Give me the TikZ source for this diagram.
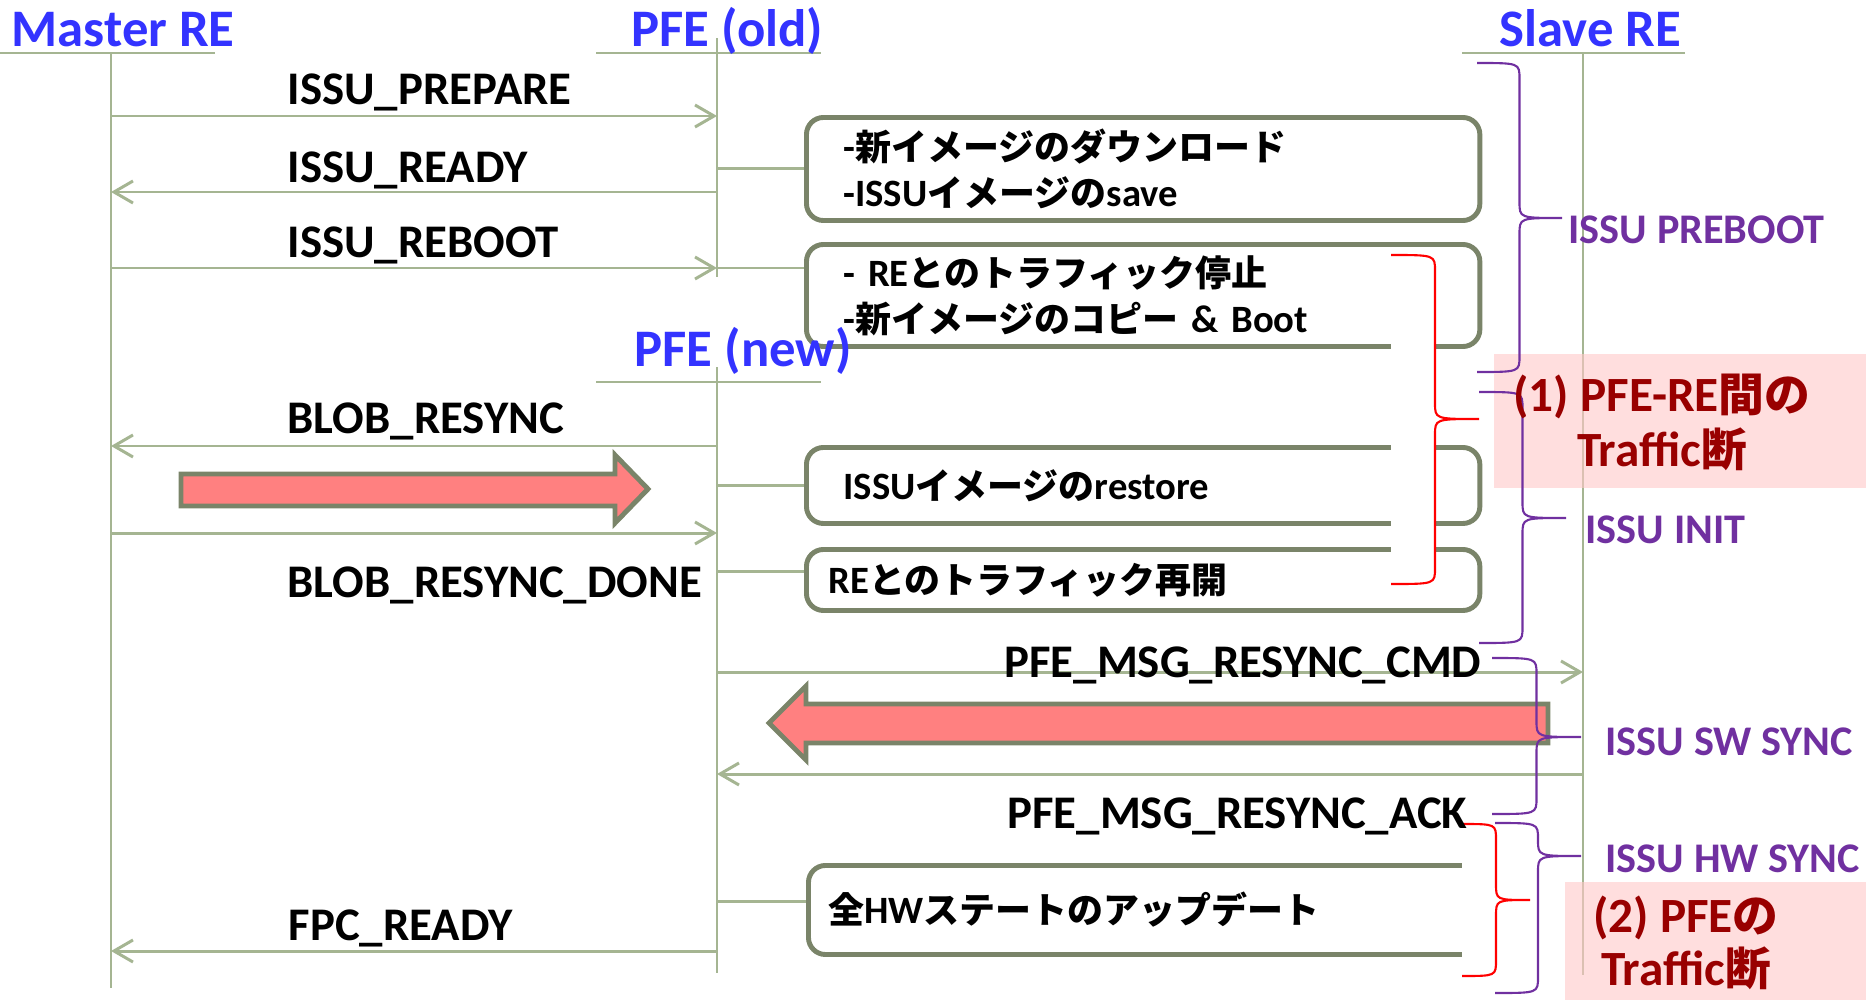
\documentclass[tikz,border=0pt]{standalone}
\usepackage{fontspec}
\setmainfont{Carlito}
\newfontfamily\jpfont{Noto Sans CJK JP}[Scale=0.93]
\newcommand{\jp}[1]{{\jpfont #1}}
\usetikzlibrary{arrows.meta}

\definecolor{lifegreen}{RGB}{165,181,146}
\definecolor{boxgray}{RGB}{122,132,105}
\definecolor{arrowpink}{RGB}{255,128,128}
\definecolor{headblue}{RGB}{51,51,255}
\definecolor{phasepurple}{RGB}{112,48,160}
\definecolor{cutred}{RGB}{153,0,0}
\definecolor{cutpink}{RGB}{255,200,200}

% right-hand curly brace: style, x of ends, x of tip, top y, tip y, bottom y
\newcommand{\sidebrace}[6]{%
	\draw[#1] (#2,#4) .. controls ({(#2+#3)/2},#4) .. ({(#2+#3)/2},{#4+16})
		-- ({(#2+#3)/2},{#5-16}) .. controls ({(#2+#3)/2},#5) .. (#3,#5)
		.. controls ({(#2+#3)/2},#5) .. ({(#2+#3)/2},{#5+16})
		-- ({(#2+#3)/2},{#6-16}) .. controls ({(#2+#3)/2},#6) .. (#2,#6);}

\begin{document}
\begin{tikzpicture}[x=0.01cm, y=-0.01cm,
	life/.style={draw=lifegreen, line width=0.6pt},
	msg/.style={draw=lifegreen, line width=0.85pt, -{Straight Barb[length=0.19cm, width=0.22cm]}},
	lnk/.style={draw=lifegreen, line width=0.85pt},
	headtxt/.style={anchor=base west, inner sep=0pt, text=headblue, font=\bfseries\fontsize{15}{18}\selectfont},
	msgtxt/.style={anchor=base west, inner sep=0pt, font=\bfseries\fontsize{13.3}{16}\selectfont},
	phasetxt/.style={anchor=base west, inner sep=0pt, text=phasepurple, font=\bfseries\fontsize{12}{14}\selectfont},
	cuttxt/.style={align=center, inner sep=0pt, text=cutred, font=\bfseries\fontsize{14}{15.6}\selectfont},
	opbox/.style={anchor=north west, draw=boxgray, line width=1.4pt, rounded corners=0.17cm, fill=white, inner ysep=0pt, align=left, font=\bfseries\fontsize{11}{13}\selectfont},
	bigarrow/.style={draw=boxgray, line width=1.4pt, fill=arrowpink, line join=miter},
	phase/.style={draw=phasepurple, line width=0.6pt},
	cut/.style={draw=red, line width=0.6pt, fill=white}]
	\useasboundingbox (0,0) rectangle (1866,1000);

	% lifelines
	\coordinate (mTop) at (111,53);
	\coordinate (mBot) at (111,988);
	\coordinate (oTop) at (717,38);
	\coordinate (oBot) at (717,277);
	\coordinate (nTop) at (717,367);
	\coordinate (nBot) at (717,973);
	\coordinate (sTop) at (1583,53);
	\coordinate (sBot) at (1583,975);
	\draw[life] (mTop) -- (mBot);
	\draw[life] (oTop) -- (oBot);
	\draw[life] (nTop) -- (nBot);
	\draw[life] (sTop) -- (sBot);
	\draw[life] (0,53) -- (215,53);
	\draw[life] (596,53) -- (821,53);
	\draw[life] (1462,53) -- (1685,53);
	\draw[life] (596,382) -- (821,382);

	% messages
	\draw[msg] (mTop |- 0,116) -- (oTop |- 0,116);
	\draw[msg] (oTop |- 0,192) -- (mTop |- 0,192);
	\draw[msg] (mTop |- 0,268) -- (oTop |- 0,268);
	\draw[msg] (nTop |- 0,446) -- (mTop |- 0,446);
	\draw[msg] (mTop |- 0,533) -- (nTop |- 0,533);
	\draw[msg] (nTop |- 0,672) -- (sTop |- 0,672);
	\draw[msg] (sTop |- 0,774) -- (nTop |- 0,774);
	\draw[msg] (nTop |- 0,951) -- (mTop |- 0,951);

	% PFE actions
	\node (dlBox) at (804,115) [opbox, inner xsep=0.37cm, text width=5.99cm, minimum height=1.03cm]
		{-\jp{新イメージのダウンロード}\\-ISSU\jp{イメージの}save};
	\node (rebootBox) at (804,242) [opbox, inner xsep=0.37cm, text width=5.99cm, minimum height=1.02cm]
		{- RE\jp{とのトラフィック停止}\\-\jp{新イメージのコピー} \& Boot};
	\node (restoreBox) at (804,445) [opbox, inner xsep=0.37cm, text width=5.99cm, minimum height=0.76cm]
		{ISSU\jp{イメージの}restore};
	\node (resumeBox) at (804,547) [opbox, inner xsep=0.22cm, text width=6.29cm, minimum height=0.61cm]
		{RE\jp{とのトラフィック再開}};
	\node (hwBox) at (806,863) [opbox, inner xsep=0.2cm, text width=6.31cm, minimum height=0.89cm]
		{\jp{全}HW\jp{ステートのアップデート}};
	\draw[lnk] (oTop |- dlBox.west) -- (dlBox.west);
	\draw[lnk] (oTop |- 0,268) -- (rebootBox.west |- 0,268);
	\draw[lnk] (nTop |- restoreBox.west) -- (restoreBox.west);
	\draw[lnk] (nTop |- 0,571) -- (resumeBox.west |- 0,571);
	\draw[lnk] (nTop |- 0,901) -- (hwBox.west |- 0,901);

	\draw[bigarrow] (181,474) -- (615,474) -- (615,455) -- (648,489) -- (615,523) -- (615,506) -- (181,506) -- cycle;
	\draw[bigarrow] (1548,704) -- (806,704) -- (806,686) -- (769,723) -- (806,760) -- (806,743) -- (1548,743) -- cycle;

	% traffic cuts and phases
	\sidebrace{cut}{1391}{1479}{255}{419}{584}
	\sidebrace{cut}{1462}{1530}{824}{900}{976}
	\fill[cutpink, fill opacity=0.6] (1494,354) rectangle (1866,488);
	\fill[cutpink, fill opacity=0.6] (1565,882) rectangle (1866,1000);
	\sidebrace{phase}{1477}{1562}{63}{218}{372}
	\sidebrace{phase}{1479}{1566}{392}{518}{643}
	\sidebrace{phase}{1492}{1581}{658}{737}{814}
	\sidebrace{phase}{1495}{1581}{823}{856}{993}

	\node (master) at (11,47) [headtxt] {Master RE};
	\node (pfeOld) at (631,47) [headtxt] {PFE (old)};
	\node (slave) at (1499,47) [headtxt] {Slave RE};
	\node (pfeNew) at (634,366) [headtxt] {PFE (new)};

	\node (prepL) at (287,104) [msgtxt] {ISSU\_PREPARE};
	\node (readyL) at (287,182) [msgtxt] {ISSU\_READY};
	\node (rebootL) at (287,257) [msgtxt] {ISSU\_REBOOT};
	\node (blobL) at (287,433) [msgtxt] {BLOB\_RESYNC};
	\node (doneL) at (287,597) [msgtxt] {BLOB\_RESYNC\_DONE};
	\node (cmdL) at (1482,677) [msgtxt, anchor=base east] {PFE\_MSG\_RESYNC\_CMD};
	\node (ackL) at (1468,828) [msgtxt, anchor=base east] {PFE\_MSG\_RESYNC\_ACK};
	\node (fpcL) at (288,940) [msgtxt] {FPC\_READY};

	\node (preL) at (1568,243) [phasetxt] {ISSU PREBOOT};
	\node (initL) at (1585,543) [phasetxt] {ISSU INIT};
	\node (swL) at (1605,755) [phasetxt] {ISSU SW SYNC};
	\node (hwL) at (1605,872) [phasetxt] {ISSU HW SYNC};

	\node (cut1) at (1662,422) [cuttxt] {(1) PFE-RE\jp{間の}\\Traffic\jp{断}};
	\node (cut2) at (1686,943) [cuttxt, font=\bfseries\fontsize{14}{15}\selectfont] {(2) PFE\jp{の}\\Traffic\jp{断}};
\end{tikzpicture}
\end{document}
